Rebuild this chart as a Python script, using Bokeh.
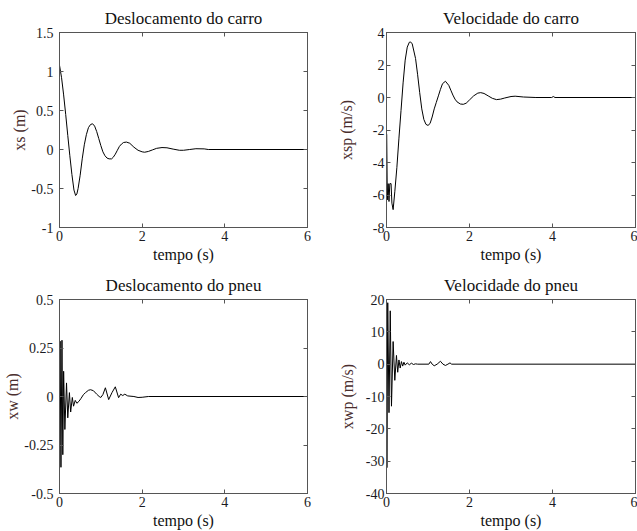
from bokeh.plotting import figure
from bokeh.models import LinearAxis, FixedTicker, Range1d
from bokeh.layouts import column, row
from bokeh.embed import file_html
from bokeh.resources import INLINE

# ---------------- data ----------------
x_ticks = [0, 2, 4, 6]

t_xs = [0.0, 0.05, 0.1, 0.15, 0.2, 0.25, 0.3, 0.35, 0.39, 0.42, 0.45, 0.5, 0.55, 0.6,
        0.65, 0.7, 0.75, 0.8, 0.85, 0.9, 0.95, 1.0, 1.05, 1.1, 1.15, 1.2, 1.26, 1.3,
        1.35, 1.4, 1.45, 1.5, 1.55, 1.62, 1.7, 1.8, 1.9, 2.0, 2.06, 2.15, 2.25, 2.35,
        2.48, 2.6, 2.75, 2.9, 3.0, 3.15, 3.3, 3.5, 3.6, 6.0]
xs = [1.08, 0.92, 0.70, 0.45, 0.18, -0.08, -0.32, -0.52, -0.59, -0.57, -0.50, -0.33,
      -0.12, 0.06, 0.19, 0.28, 0.32, 0.33, 0.30, 0.23, 0.14, 0.05, -0.03, -0.08, -0.11,
      -0.12, -0.12, -0.10, -0.06, -0.01, 0.04, 0.07, 0.09, 0.095, 0.08, 0.03, -0.01,
      -0.03, -0.035, -0.025, -0.005, 0.015, 0.025, 0.022, 0.005, -0.01, -0.01, 0.0,
      0.01, 0.008, 0.0, 0.0]
xs_ticks = [-1, -0.5, 0, 0.5, 1, 1.5]
xs_tick_labels = ["-1", "-0.5", "0", "0.5", "1", "1.5"]

t_xsp = [0.0, 0.005, 0.02, 0.04, 0.06, 0.08, 0.11, 0.13, 0.16, 0.2, 0.25, 0.3, 0.35,
         0.4, 0.45, 0.5, 0.55, 0.58, 0.62, 0.7, 0.75, 0.8, 0.85, 0.9, 0.95, 1.0, 1.05,
         1.1, 1.15, 1.2, 1.25, 1.3, 1.35, 1.42, 1.5, 1.55, 1.6, 1.65, 1.7, 1.78, 1.85,
         1.92, 2.0, 2.1, 2.2, 2.27, 2.35, 2.45, 2.55, 2.65, 2.75, 2.85, 3.0, 3.1, 3.3,
         3.6, 3.98, 4.02, 4.06, 6.0]
xsp = [-2.2, -2.3, -6.3, -5.3, -6.4, -5.3, -5.3, -6.5, -6.9, -5.8, -4.3, -2.5, -0.8,
       0.9, 2.3, 3.1, 3.4, 3.42, 3.3, 2.4, 1.4, 0.3, -0.7, -1.35, -1.65, -1.72, -1.6,
       -1.2, -0.7, -0.3, 0.1, 0.5, 0.85, 1.0, 0.75, 0.45, 0.15, -0.1, -0.27, -0.4,
       -0.42, -0.35, -0.15, 0.1, 0.27, 0.3, 0.25, 0.1, -0.05, -0.13, -0.1, -0.03, 0.06,
       0.08, 0.03, 0.0, 0.0, 0.06, 0.0, 0.0]
xsp_ticks = [-8, -6, -4, -2, 0, 2, 4]
xsp_tick_labels = ["-8", "-6", "-4", "-2", "0", "2", "4"]

t_xw = [0.0, 0.015, 0.035, 0.06, 0.08, 0.1, 0.13, 0.17, 0.2, 0.24, 0.27, 0.31, 0.34,
        0.38, 0.42, 0.47, 0.52, 0.58, 0.63, 0.7, 0.75, 0.82, 0.9, 0.96, 1.0, 1.05,
        1.11, 1.19, 1.27, 1.35, 1.43, 1.48, 1.53, 1.58, 1.65, 1.8, 1.9, 2.0, 2.15, 6.0]
xw = [0.0, 0.285, -0.365, 0.29, -0.30, 0.13, -0.17, 0.07, -0.11, 0.02, -0.08, -0.005,
      -0.05, -0.02, -0.035, -0.025, -0.01, 0.01, 0.02, 0.032, 0.035, 0.03, 0.012,
      0.0, -0.005, 0.01, 0.045, -0.016, 0.02, 0.05, -0.006, 0.012, 0.005, 0.012,
      0.003, 0.0, -0.005, -0.004, 0.0, 0.0]
xw_ticks = [-0.5, -0.25, 0, 0.25, 0.5]
xw_tick_labels = ["-0.5", "-0.25", "0", "0.25", "0.5"]

t_xwp = [0.0, 0.01, 0.03, 0.06, 0.09, 0.12, 0.16, 0.2, 0.24, 0.27, 0.3, 0.33, 0.36,
         0.39, 0.42, 0.45, 0.5, 0.55, 0.6, 0.65, 0.7, 0.75, 1.02, 1.06, 1.1, 1.15,
         1.22, 1.3, 1.36, 1.42, 1.48, 1.53, 1.57, 6.0]
xwp = [0.0, -32.0, 19.0, -15.0, 16.5, -13.0, 7.0, -5.0, 2.7, -2.5, 1.3, -1.2, 0.8,
       -0.6, 0.6, -0.3, 0.4, -0.2, 0.3, -0.1, 0.1, 0.0, 0.0, 0.8, 0.0, -0.5, 0.0, 0.9,
       0.0, -0.4, 0.0, 0.4, 0.0, 0.0]
xwp_ticks = [-40, -30, -20, -10, 0, 10, 20]
xwp_tick_labels = ["-40", "-30", "-20", "-10", "0", "10", "20"]

# ---------------- styling ----------------
FONT = "Liberation Serif"
FRAME = "#555555"


def make(title, ylabel, t, y, yticks, ylabels, width, height, bl, br, bt, bb,
         ystand, ylab_stand):
    p = figure(width=width, height=height, output_backend="svg", toolbar_location=None,
               x_range=Range1d(0, 6), y_range=Range1d(min(yticks), max(yticks)),
               min_border_left=bl, min_border_right=br, min_border_top=bt,
               min_border_bottom=bb, title=title, x_axis_location=None,
               y_axis_location=None)
    p.line(t, y, color="black", line_width=1)
    p.xgrid.visible = False
    p.ygrid.visible = False
    p.outline_line_color = FRAME
    p.outline_line_width = 1
    p.background_fill_color = "white"
    p.border_fill_color = "white"

    p.title.text_font = FONT
    p.title.text_font_size = "17px"
    p.title.text_font_style = "normal"
    p.title.text_color = "#111111"
    p.title.align = "center"
    p.title.standoff = 10

    xt = FixedTicker(ticks=x_ticks, minor_ticks=[])
    yt = FixedTicker(ticks=yticks, minor_ticks=[])

    def style(ax):
        ax.axis_line_color = FRAME
        ax.major_tick_line_color = FRAME
        ax.major_tick_in = 4
        ax.major_tick_out = 0
        ax.minor_tick_line_color = None
        ax.major_label_text_font = FONT
        ax.major_label_text_font_size = "14px"
        ax.major_label_text_color = "#1a1a22"
        ax.axis_label_text_font = FONT
        ax.axis_label_text_font_size = "16px"
        ax.axis_label_text_font_style = "normal"

    xb = LinearAxis(ticker=xt, axis_label="tempo (s)")
    style(xb)
    xb.major_label_overrides = {v: str(v) for v in x_ticks}
    xb.major_label_standoff = 3
    xb.axis_label_standoff = 2
    xb.axis_label_text_color = "#111111"
    p.add_layout(xb, "below")

    yl = LinearAxis(ticker=yt, axis_label=ylabel)
    style(yl)
    yl.major_label_overrides = {v: s for v, s in zip(yticks, ylabels)}
    yl.major_label_standoff = ystand
    yl.axis_label_standoff = ylab_stand
    yl.axis_label_text_color = "#4a2e2e"
    p.add_layout(yl, "left")

    for loc, tk in (("above", xt), ("right", yt)):
        ax = LinearAxis(ticker=tk)
        style(ax)
        ax.major_label_text_font_size = "1px"
        ax.major_label_text_color = None
        ax.major_label_standoff = 0
        p.add_layout(ax, loc)
    return p


p1 = make("Deslocamento do carro", "xs (m)", t_xs, xs, xs_ticks, xs_tick_labels,
          318, 265, 59, 11, 32, 38, 6, 0)
p2 = make("Velocidade do carro", "xsp (m/s)", t_xsp, xsp, xsp_ticks, xsp_tick_labels,
          319, 265, 68, 2, 32, 38, 2, 15)
p3 = make("Deslocamento do pneu", "xw (m)", t_xw, xw, xw_ticks, xw_tick_labels,
          318, 266, 59, 11, 34, 37, 6, 0)
p4 = make("Velocidade do pneu", "xwp (m/s)", t_xwp, xwp, xwp_ticks, xwp_tick_labels,
          319, 266, 68, 2, 34, 37, 2, 7)

layout = column(row(p1, p2, spacing=0), row(p3, p4, spacing=0), spacing=0)

open("out.html", "w").write(file_html(layout, INLINE))
